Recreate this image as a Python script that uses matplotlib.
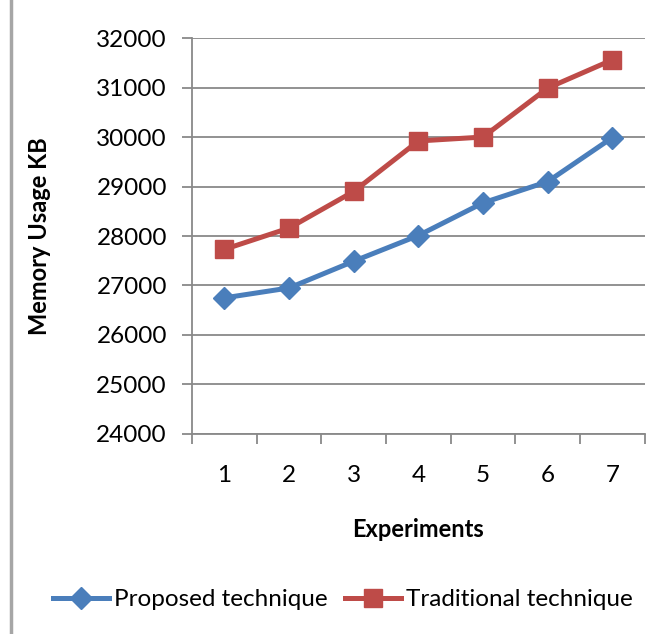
import matplotlib.pyplot as plt
from matplotlib.lines import Line2D

experiments = [1, 2, 3, 4, 5, 6, 7]
proposed = [26750, 26950, 27490, 28010, 28670, 29100, 29990]
traditional = [27730, 28160, 28900, 29920, 30000, 30990, 31560]
y_ticks = [24000, 25000, 26000, 27000, 28000, 29000, 30000, 31000, 32000]

blue = "#4A7EBB"
red = "#BE4B48"
grid_gray = "#898989"

plt.rcParams["font.family"] = ["Lato", "DejaVu Sans"]

fig = plt.figure(figsize=(6.62, 6.34), dpi=100)
ax = fig.add_axes([0.290, 0.3155, 0.684, 0.6245])

x = list(range(len(experiments)))
ax.plot(x, proposed, color=blue, linewidth=3.6, marker="D", markersize=11,
        label="Proposed technique", zorder=3)
ax.plot(x, traditional, color=red, linewidth=3.6, marker="s", markersize=12.5,
        label="Traditional technique", zorder=3)

ax.set_xlim(-0.5, len(experiments) - 0.5)
ax.set_ylim(24000, 32000)
ax.set_yticks(y_ticks)
ax.set_yticklabels([str(v) for v in y_ticks], fontsize=17.5)
ax.yaxis.grid(True, color=grid_gray, linewidth=1.3)
ax.set_axisbelow(True)

# category labels centered, tick marks at boundaries
ax.set_xticks(x)
ax.set_xticklabels([str(e) for e in experiments], fontsize=17.5)
ax.tick_params(axis="x", length=0, pad=22)
ax.set_xticks([i - 0.5 for i in range(len(experiments) + 1)], minor=True)
ax.tick_params(axis="x", which="minor", length=7, width=1.3, color=grid_gray)
ax.tick_params(axis="y", length=7, width=1.3, color=grid_gray, pad=11)

for side in ["top", "right"]:
    ax.spines[side].set_visible(False)
for side in ["left", "bottom"]:
    ax.spines[side].set_color(grid_gray)
    ax.spines[side].set_linewidth(1.3)

ax.set_ylabel("Memory Usage KB", fontsize=17, fontweight="bold")
ax.yaxis.set_label_coords(-0.311, 0.5)
ax.set_xlabel("Experiments", fontsize=17, fontweight="bold")
ax.xaxis.set_label_coords(0.5, -0.212)

handles = [
    Line2D([], [], color=blue, linewidth=3.6, marker="D", markersize=11),
    Line2D([], [], color=red, linewidth=3.6, marker="s", markersize=12.5),
]
fig.legend(handles, ["Proposed technique", "Traditional technique"],
           loc="center", bbox_to_anchor=(0.518, 0.054), ncol=2, frameon=False,
           fontsize=17.5, handlelength=2.3, handletextpad=0.2, columnspacing=0.7,
           borderpad=0, borderaxespad=0)

# chart frame edge on the left
fig.add_artist(Line2D([0.017, 0.017], [0, 1], color="#a6a6a6", linewidth=2.5))

fig.savefig("out.png", dpi=100)
